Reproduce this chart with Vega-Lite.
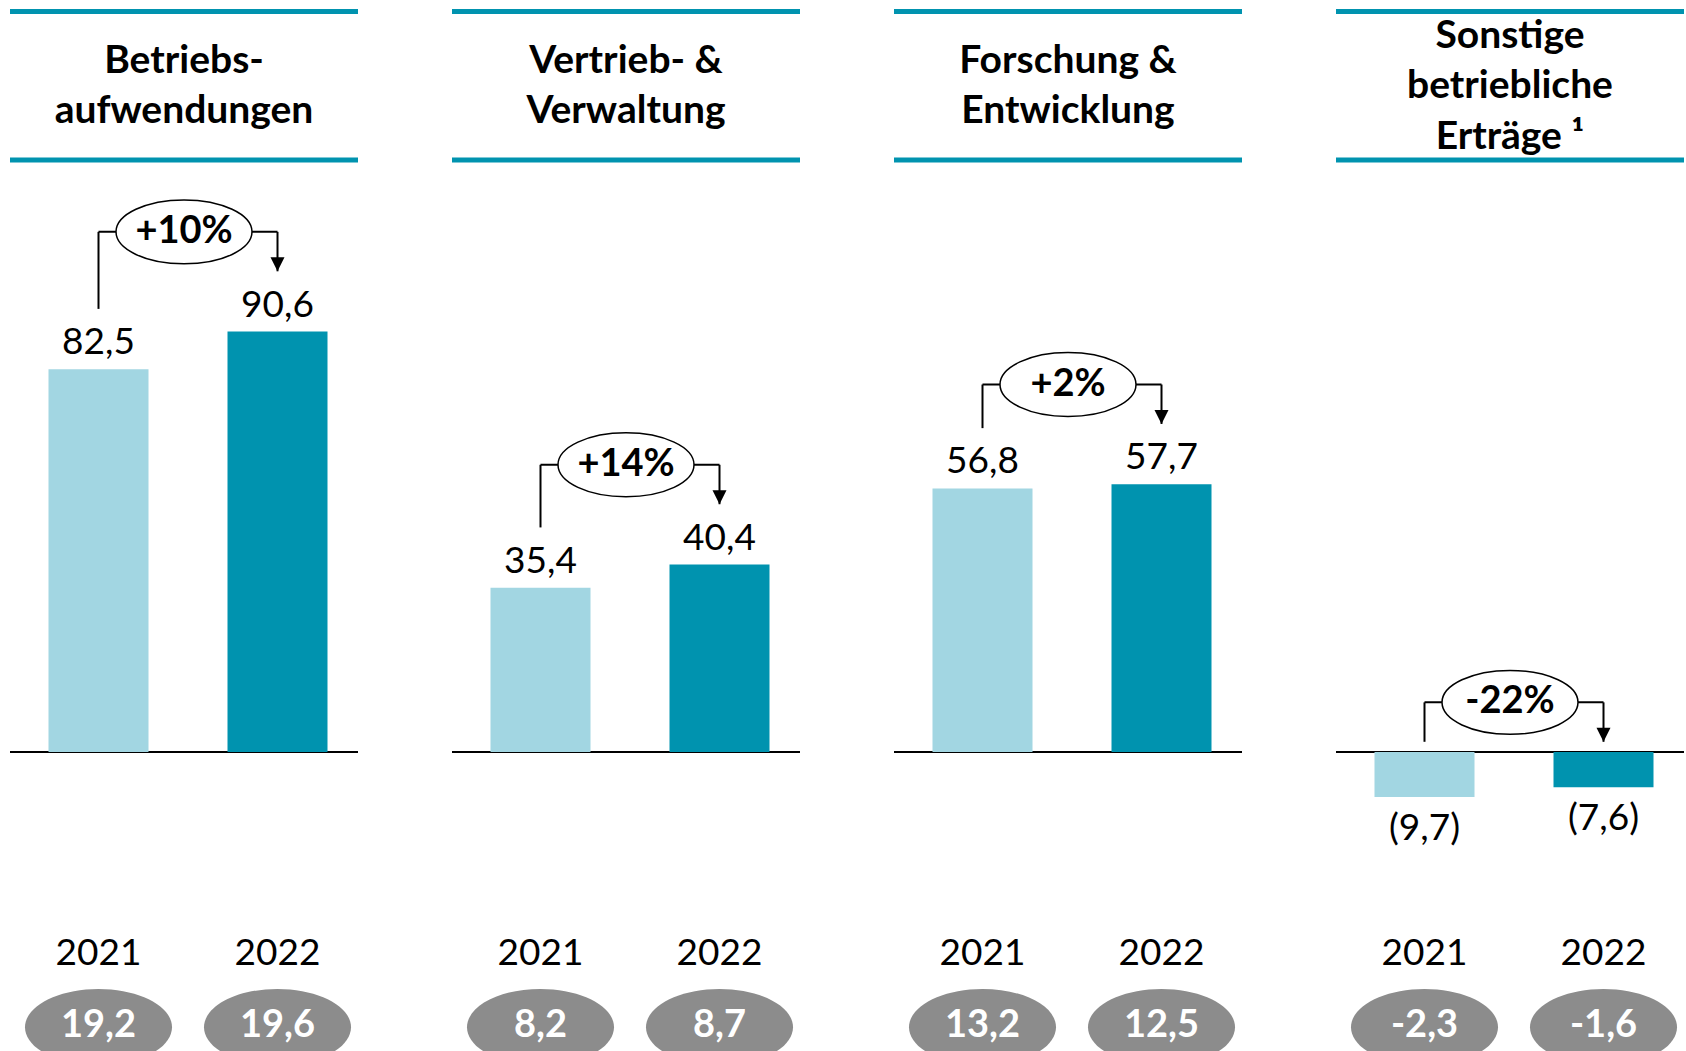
{
  "$schema": "https://vega.github.io/schema/vega-lite/v6.json",
  "autosize": {"type": "pad"},
  "bounds": "flush",
  "padding": {"left": 7, "top": 0, "right": 0, "bottom": 0},
  "background": "white",
  "config": {"view": {"stroke": null}, "font": "Lato"},
  "data": {
    "values": [
      {"panel": "Betriebsaufwendungen", "title": "Betriebs-\naufwendungen", "year": "2021", "value": 82.5, "label": "82,5", "note": "19,2", "pct": "+10%"},
      {"panel": "Betriebsaufwendungen", "title": "Betriebs-\naufwendungen", "year": "2022", "value": 90.6, "label": "90,6", "note": "19,6", "pct": "+10%"},
      {"panel": "Vertrieb & Verwaltung", "title": "Vertrieb- &\nVerwaltung", "year": "2021", "value": 35.4, "label": "35,4", "note": "8,2", "pct": "+14%"},
      {"panel": "Vertrieb & Verwaltung", "title": "Vertrieb- &\nVerwaltung", "year": "2022", "value": 40.4, "label": "40,4", "note": "8,7", "pct": "+14%"},
      {"panel": "Forschung & Entwicklung", "title": "Forschung &\nEntwicklung", "year": "2021", "value": 56.8, "label": "56,8", "note": "13,2", "pct": "+2%"},
      {"panel": "Forschung & Entwicklung", "title": "Forschung &\nEntwicklung", "year": "2022", "value": 57.7, "label": "57,7", "note": "12,5", "pct": "+2%"},
      {"panel": "Sonstige betriebliche Erträge", "title": "Sonstige\nbetriebliche\nErträge ¹", "year": "2021", "value": -9.7, "label": "(9,7)", "note": "-2,3", "pct": "-22%"},
      {"panel": "Sonstige betriebliche Erträge", "title": "Sonstige\nbetriebliche\nErträge ¹", "year": "2022", "value": -7.6, "label": "(7,6)", "note": "-1,6", "pct": "-22%"}
    ]
  },
  "transform": [
    {"calculate": "datum.value >= 0 ? datum.value + 13 : 2.2", "as": "start"},
    {"joinaggregate": [{"op": "max", "field": "start", "as": "smax"}], "groupby": ["panel"]},
    {"calculate": "datum.smax + 8.5", "as": "top"},
    {"calculate": "143.5 + (length(split(datum.title, '\\n')) - 1) * 5.44", "as": "ty"}
  ],
  "facet": {
    "column": {
      "field": "panel",
      "type": "nominal",
      "sort": ["Betriebsaufwendungen", "Vertrieb & Verwaltung", "Forschung & Entwicklung", "Sonstige betriebliche Erträge"],
      "header": {"labels": false, "title": null},
      "title": null
    }
  },
  "spacing": 94,
  "spec": {
    "width": 348,
    "height": 1051,
    "layer": [
      {
        "transform": [{"filter": "datum.year == '2021'"}],
        "mark": {"type": "rule", "stroke": "#0093AF", "strokeWidth": 5},
        "encoding": {"y": {"datum": 159.6, "type": "quantitative", "scale": {"domain": [-64.44, 162.07], "nice": false, "zero": false}, "axis": null}}
      },
      {
        "transform": [{"filter": "datum.year == '2021'"}],
        "mark": {"type": "rule", "stroke": "#0093AF", "strokeWidth": 5},
        "encoding": {"y": {"datum": 127.6, "type": "quantitative"}}
      },
      {
        "transform": [{"filter": "datum.year == '2021'"}],
        "mark": {"type": "text", "font": "Lato", "fontWeight": "bold", "fontSize": 39, "lineHeight": 50.5, "lineBreak": "\n", "baseline": "middle", "align": "center", "color": "black"},
        "encoding": {"y": {"field": "ty", "type": "quantitative"}, "text": {"field": "title"}}
      },
      {
        "transform": [{"filter": "datum.year == '2021'"}],
        "mark": {"type": "rule", "stroke": "black", "strokeWidth": 2},
        "encoding": {"y": {"datum": 0, "type": "quantitative"}}
      },
      {
        "mark": {"type": "bar"},
        "encoding": {
          "x": {"field": "year", "type": "nominal", "axis": null, "scale": {"paddingInner": 0.4413, "paddingOuter": 0.1927, "align": 0.558}},
          "y": {"field": "value", "type": "quantitative"},
          "y2": {"datum": 0},
          "color": {"field": "year", "type": "nominal", "scale": {"domain": ["2021", "2022"], "range": ["#A2D6E2", "#0093AF"]}, "legend": null}
        }
      },
      {
        "transform": [{"filter": "datum.value >= 0"}],
        "mark": {"type": "text", "font": "Lato", "fontSize": 37, "baseline": "middle", "dy": -26, "color": "black"},
        "encoding": {
          "x": {"field": "year", "type": "nominal"},
          "y": {"field": "value", "type": "quantitative"},
          "text": {"field": "label"}
        }
      },
      {
        "transform": [{"filter": "datum.value < 0"}],
        "mark": {"type": "text", "font": "Lato", "fontSize": 37, "baseline": "middle", "dy": 32, "color": "black"},
        "encoding": {
          "x": {"field": "year", "type": "nominal"},
          "y": {"field": "value", "type": "quantitative"},
          "text": {"field": "label"}
        }
      },
      {
        "mark": {"type": "text", "font": "Lato", "fontSize": 37, "baseline": "middle", "color": "black"},
        "encoding": {
          "x": {"field": "year", "type": "nominal"},
          "y": {"datum": -43.5, "type": "quantitative"},
          "text": {"field": "year"}
        }
      },
      {
        "mark": {"type": "point", "clip": true, "filled": true, "fill": "#8C8C8C", "opacity": 1, "strokeWidth": 0, "size": 21609, "shape": "M-1,0A1,0.52,0,1,1,1,0A1,0.52,0,1,1,-1,0Z"},
        "encoding": {
          "x": {"field": "year", "type": "nominal"},
          "y": {"datum": -59.3, "type": "quantitative"}
        }
      },
      {
        "mark": {"type": "text", "font": "Lato", "fontWeight": "bold", "fontSize": 38, "baseline": "middle", "color": "white"},
        "encoding": {
          "x": {"field": "year", "type": "nominal"},
          "y": {"datum": -59.1, "type": "quantitative"},
          "text": {"field": "note"}
        }
      },
      {
        "mark": {"type": "rule", "stroke": "black", "strokeWidth": 2},
        "encoding": {
          "x": {"field": "year", "type": "nominal"},
          "y": {"field": "start", "type": "quantitative"},
          "y2": {"field": "top"}
        }
      },
      {
        "transform": [{"filter": "datum.year == '2021'"}],
        "mark": {"type": "rule", "stroke": "black", "strokeWidth": 2},
        "encoding": {
          "x": {"datum": "2021"},
          "x2": {"datum": "2022"},
          "y": {"field": "top", "type": "quantitative"}
        }
      },
      {
        "transform": [{"filter": "datum.year == '2022'"}],
        "mark": {"type": "point", "filled": true, "fill": "black", "opacity": 1, "strokeWidth": 0, "size": 196, "yOffset": -7, "shape": "M-1,-1L1,-1L0,1Z"},
        "encoding": {
          "x": {"field": "year", "type": "nominal"},
          "y": {"field": "start", "type": "quantitative"}
        }
      },
      {
        "transform": [{"filter": "datum.year == '2021'"}],
        "mark": {"type": "point", "filled": false, "fill": "white", "fillOpacity": 1, "stroke": "black", "strokeWidth": 1.5, "opacity": 1, "size": 18496, "shape": "M-1,0A1,0.47,0,1,1,1,0A1,0.47,0,1,1,-1,0Z"},
        "encoding": {
          "y": {"field": "top", "type": "quantitative"}
        }
      },
      {
        "transform": [{"filter": "datum.year == '2021'"}],
        "mark": {"type": "text", "font": "Lato", "fontWeight": "bold", "fontSize": 38, "baseline": "middle", "color": "black"},
        "encoding": {
          "y": {"field": "top", "type": "quantitative"},
          "text": {"field": "pct"}
        }
      }
    ]
  }
}
